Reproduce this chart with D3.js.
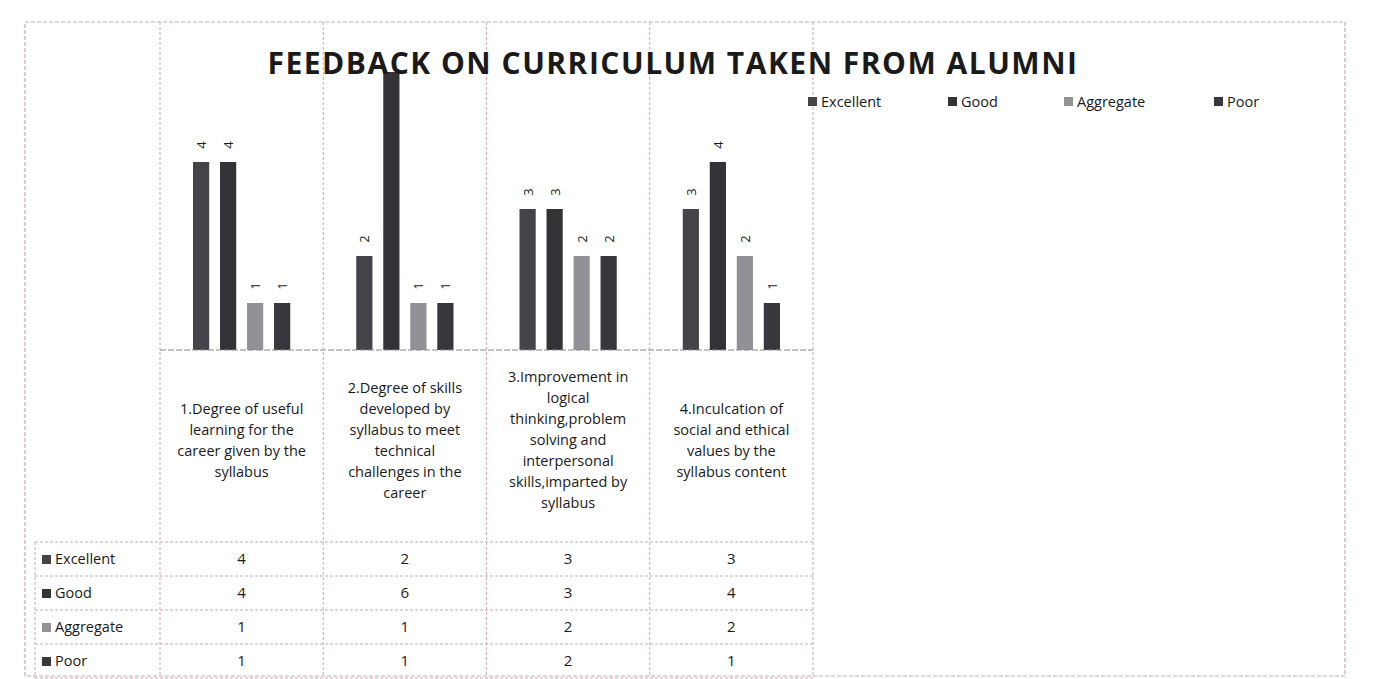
<!DOCTYPE html>
<html>
<head>
<meta charset="utf-8">
<script src="https://cdn.jsdelivr.net/npm/d3@7"></script>
<style>
  body { margin: 0; background: #fff; }
  svg { display: block; }
  text { font-family: "Open Sans", "Noto Sans", sans-serif; fill: #1a1a1a; }
</style>
</head>
<body>
<svg id="chart" width="1382" height="679"></svg>
<script>
// chart data
const categories = [
  ["1.Degree of useful", "learning for the", "career given by the", "syllabus"],
  ["2.Degree of skills", "developed by", "syllabus to meet", "technical", "challenges in the", "career"],
  ["3.Improvement in", "logical", "thinking,problem", "solving and", "interpersonal", "skills,imparted by", "syllabus"],
  ["4.Inculcation of", "social and ethical", "values by the", "syllabus content"]
];
const seriesNames = ["Excellent", "Good", "Aggregate", "Poor"];
const excellent = [4, 2, 3, 3];
const good = [4, 6, 3, 4];
const aggregate = [1, 1, 2, 2];
const poor = [1, 1, 2, 1];
const titleText = "FEEDBACK ON CURRICULUM TAKEN FROM ALUMNI";

const seriesValues = [excellent, good, aggregate, poor];
const colors = ["#444448", "#333337", "#929296", "#38383c"];

const svg = d3.select("#chart");

const frame = { left: 25, right: 1345, top: 22, bottom: 676 };
const plotLeft = 160, plotRight = 813;
const baseY = 350;
const tableTop = 542, rowH = 34;
const lineColor = "#c8aab3";

const catIdx = d3.range(categories.length);

const x = d3.scaleBand().domain(catIdx).range([plotLeft, plotRight]);
const xSub = d3.scaleBand().domain(seriesNames)
  .range([33, x.bandwidth() - 33]).paddingInner(0.4);
const y = d3.scaleLinear().domain([0, 6]).range([baseY, 68]);
const color = d3.scaleOrdinal().domain(seriesNames).range(colors);

// bars
const groups = svg.selectAll(".cat")
  .data(catIdx)
  .join("g")
  .attr("class", "cat")
  .attr("transform", i => `translate(${x(i)},0)`);

const barData = i => seriesNames.map((s, k) => ({ s, v: seriesValues[k][i] }));

groups.selectAll("rect")
  .data(barData)
  .join("rect")
  .attr("x", d => xSub(d.s))
  .attr("y", d => y(d.v))
  .attr("width", xSub.bandwidth())
  .attr("height", d => baseY - y(d.v))
  .attr("fill", d => color(d.s));

// rotated value labels
groups.selectAll(".val")
  .data(barData)
  .join("text")
  .attr("class", "val")
  .attr("transform", d => `translate(${xSub(d.s) + xSub.bandwidth() / 2},${y(d.v) - 17}) rotate(-90)`)
  .attr("text-anchor", "middle")
  .attr("dominant-baseline", "central")
  .attr("font-size", 13)
  .text(d => d.v);

// title area covers the plot under it
svg.append("rect")
  .attr("x", 262).attr("y", 40).attr("width", 822).attr("height", 32)
  .attr("fill", "#fff");

// frame
svg.append("rect")
  .attr("x", frame.left).attr("y", frame.top)
  .attr("width", frame.right - frame.left).attr("height", frame.bottom - frame.top)
  .attr("fill", "none").attr("stroke", lineColor).attr("stroke-width", 1.2)
  .attr("stroke-dasharray", "4,2");

// column lines, full height
const colEdges = catIdx.map(i => x(i)).concat([plotRight]);
svg.selectAll(".col-line")
  .data(colEdges)
  .join("line")
  .attr("x1", d => d).attr("x2", d => d)
  .attr("y1", frame.top).attr("y2", frame.bottom)
  .attr("stroke", lineColor).attr("stroke-width", 1)
  .attr("stroke-dasharray", "3,2");

svg.append("text")
  .attr("x", 673).attr("y", 74)
  .attr("text-anchor", "middle")
  .attr("font-size", 30).attr("font-weight", 700)
  .attr("letter-spacing", 1.5)
  .text(titleText);

// baseline
svg.append("line")
  .attr("x1", plotLeft).attr("x2", plotRight)
  .attr("y1", baseY).attr("y2", baseY)
  .attr("stroke", "#8a8a8a").attr("stroke-width", 1.2)
  .attr("stroke-dasharray", "6,2");

// category labels
const lineH = 21;
svg.selectAll(".cat-label")
  .data(catIdx)
  .join("text")
  .attr("class", "cat-label")
  .attr("text-anchor", "middle")
  .attr("font-size", 14.5)
  .each(function (i) {
    const lines = categories[i];
    const y0 = 440 - (lines.length - 1) * lineH / 2;
    d3.select(this).selectAll("tspan")
      .data(lines)
      .join("tspan")
      .attr("x", x(i) + x.bandwidth() / 2)
      .attr("y", (d, j) => y0 + j * lineH + 5)
      .text(d => d);
  });

// data table
const tableLeft = 35;
const rowYs = d3.range(seriesNames.length + 1).map(r => tableTop + r * rowH);
svg.selectAll(".row-line")
  .data(rowYs)
  .join("line")
  .attr("x1", tableLeft)
  .attr("x2", plotRight)
  .attr("y1", d => d).attr("y2", d => d)
  .attr("stroke", lineColor).attr("stroke-width", 1)
  .attr("stroke-dasharray", "3,2");
svg.append("line")
  .attr("x1", tableLeft).attr("x2", tableLeft)
  .attr("y1", tableTop).attr("y2", tableTop + rowH * seriesNames.length)
  .attr("stroke", lineColor).attr("stroke-dasharray", "3,2");

const rows = svg.selectAll(".row")
  .data(seriesNames)
  .join("g")
  .attr("class", "row")
  .attr("transform", (s, r) => `translate(0,${tableTop + r * rowH + rowH / 2})`);

rows.append("rect")
  .attr("x", 42).attr("y", -4).attr("width", 9).attr("height", 9)
  .attr("fill", s => color(s));
rows.append("text")
  .attr("x", 55).attr("y", 5)
  .attr("font-size", 14.5)
  .text(s => s);
rows.selectAll(".cell")
  .data((s, r) => catIdx.map(i => seriesValues[r][i]))
  .join("text")
  .attr("class", "cell")
  .attr("x", (v, i) => x(i) + x.bandwidth() / 2)
  .attr("y", 5)
  .attr("text-anchor", "middle")
  .attr("font-size", 15)
  .text(v => v);

// legend
const legendX = [808, 948, 1064, 1214];
const legend = svg.selectAll(".legend")
  .data(seriesNames)
  .join("g")
  .attr("class", "legend")
  .attr("transform", (s, k) => `translate(${legendX[k]},102)`);
legend.append("rect")
  .attr("x", 0).attr("y", -5).attr("width", 9).attr("height", 9)
  .attr("fill", s => color(s));
legend.append("text")
  .attr("x", 13).attr("y", 5)
  .attr("font-size", 14.5)
  .text(s => s);
</script>
</body>
</html>
